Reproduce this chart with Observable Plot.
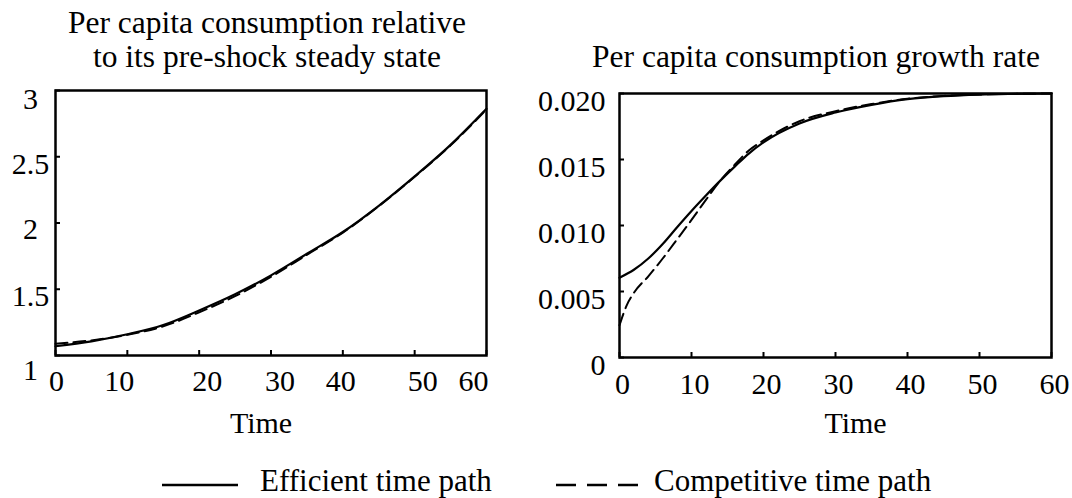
<!DOCTYPE html>
<html>
<head>
<meta charset="utf-8">
<script src="https://cdn.jsdelivr.net/npm/d3@7"></script>
<script src="https://cdn.jsdelivr.net/npm/@observablehq/plot@0.6"></script>
<style>
  body { margin: 0; background: #fff; }
  #root { position: relative; width: 1072px; height: 498px; overflow: hidden; background: #fff;
          font-family: "Liberation Serif", "Times New Roman", serif; color: #000; }
  .title { font-size: 31.5px; line-height: 34px; text-align: center; white-space: nowrap; width: 520px; }
  .legtext { font-size: 31px; line-height: 34px; white-space: nowrap; }
</style>
</head>
<body>
<div id="root"></div>
<script>
// ---- data ----
const titleLeft = ["Per capita consumption relative", "to its pre-shock steady state"];
const titleRight = "Per capita consumption growth rate";
const xAxisLabel = "Time";
const seriesNames = ["Efficient time path", "Competitive time path"];

const xTicks = [0, 10, 20, 30, 40, 50, 60];
const leftYTicks = [1, 1.5, 2, 2.5, 3];
const leftYTickLabels = ["1", "1.5", "2", "2.5", "3"];
const rightYTicks = [0, 0.005, 0.010, 0.015, 0.020];
const rightYTickLabels = ["0", "0.005", "0.010", "0.015", "0.020"];

// Left panel: consumption relative to pre-shock steady state
const timeLevel = [0, 5, 10, 15, 20, 25, 30, 35, 40, 45, 50, 55, 60];
const efficientLevel = [1.070, 1.107, 1.160, 1.230, 1.340, 1.462, 1.605, 1.768, 1.932, 2.130, 2.352, 2.590, 2.862];
const competitiveLevel = [1.088, 1.114, 1.156, 1.220, 1.326, 1.448, 1.594, 1.760, 1.927, 2.127, 2.349, 2.586, 2.857];

// Right panel: consumption growth rate
const timeGrowthEff = [0, 2, 4, 6, 8, 10, 12, 14, 16, 18, 20, 25, 30, 35, 40, 45, 50, 55, 60];
const efficientGrowth = [0.00605, 0.00665, 0.0075, 0.0086, 0.00987, 0.0111, 0.01227, 0.0134, 0.01446, 0.01547,
                         0.0163, 0.01773, 0.01856, 0.01914, 0.01957, 0.0198, 0.01992, 0.01997, 0.0200];
const timeGrowthComp = [0, 1, 2, 4, 6, 8, 10, 12, 14, 16, 18, 20, 25, 30, 35, 40, 45, 50, 55, 60];
const competitiveGrowth = [0.00244, 0.00395, 0.0049, 0.00615, 0.0075, 0.00895, 0.01042, 0.01194, 0.0134, 0.0146,
                           0.0157, 0.01645, 0.0179, 0.01866, 0.0192, 0.0196, 0.01982, 0.01993, 0.01997, 0.0200];

// ---- build ----
const root = document.getElementById("root");
const font = '"Liberation Serif", "Times New Roman", serif';
const dash = "12,6";

function rows(ts, vs) { return ts.map((t, i) => ({t, v: vs[i]})); }

const baseStyle = {fontFamily: font, fontSize: "30px", background: "transparent", overflow: "visible", color: "#000"};

// per-label nudges imitating the original's label placement
const leftXdx = [1, -8, 8, 9, -2, 8, -13];
const leftYdy = [15, 7.5, 6, 7.5, 9];

const leftPlot = Plot.plot({
  width: 530, height: 360,
  marginLeft: 55, marginRight: 44, marginTop: 10, marginBottom: 85,
  x: {domain: [0, 60]},
  y: {domain: [1, 3]},
  style: baseStyle,
  marks: [
    Plot.axisX(xTicks, {tickSize: -5, strokeWidth: 2, tickFormat: () => "", label: null}),
    ...xTicks.map((t, i) => Plot.axisX([t], {tickSize: 0, tickPadding: 14, dx: leftXdx[i], label: null, tickFormat: d => String(d)})),
    Plot.axisY(leftYTicks, {tickSize: -5, strokeWidth: 2, tickFormat: () => "", label: null}),
    ...leftYTicks.map((t, i) => Plot.axisY([t], {tickSize: 0, tickPadding: 25, textAnchor: "middle", dy: leftYdy[i], label: null, tickFormat: () => leftYTickLabels[i]})),
    Plot.line(rows(timeLevel, competitiveLevel), {x: "t", y: "v", stroke: "black", strokeWidth: 2, strokeDasharray: dash, curve: "monotone-x"}),
    Plot.line(rows(timeLevel, efficientLevel), {x: "t", y: "v", stroke: "black", strokeWidth: 2.2, curve: "monotone-x"}),
    Plot.frame({stroke: "black", strokeWidth: 2.5}),
    Plot.text([xAxisLabel], {frameAnchor: "bottom", dy: 77, dx: -10, fontSize: 30})
  ]
});

const rightPlot = Plot.plot({
  width: 512, height: 360,
  marginLeft: 59, marginRight: 21, marginTop: 13, marginBottom: 83,
  x: {domain: [0, 60]},
  y: {domain: [0, 0.02]},
  style: baseStyle,
  marks: [
    Plot.axisX(xTicks, {tickSize: -5, strokeWidth: 2, tickFormat: () => "", label: null}),
    Plot.axisX(xTicks, {tickSize: 0, tickPadding: 15, dx: 3, label: null, tickFormat: d => String(d)}),
    Plot.axisY(rightYTicks, {tickSize: -5, strokeWidth: 2, tickFormat: () => "", label: null}),
    Plot.axisY(rightYTicks, {tickSize: 0, tickPadding: 14, dy: 7.5, label: null, tickFormat: (d, i) => rightYTickLabels[i]}),
    Plot.line(rows(timeGrowthComp, competitiveGrowth), {x: "t", y: "v", stroke: "black", strokeWidth: 2, strokeDasharray: dash, curve: "monotone-x"}),
    Plot.line(rows(timeGrowthEff, efficientGrowth), {x: "t", y: "v", stroke: "black", strokeWidth: 2.2, curve: "monotone-x"}),
    Plot.frame({stroke: "black", strokeWidth: 2.5}),
    Plot.text([xAxisLabel], {frameAnchor: "bottom", dy: 75, dx: 20, fontSize: 30})
  ]
});

function place(el, left, top) {
  el.style.position = "absolute";
  el.style.left = left + "px";
  el.style.top = top + "px";
  root.appendChild(el);
}
place(leftPlot, 0, 80);
place(rightPlot, 560, 80);

// titles
const tl = document.createElement("div");
tl.className = "title";
tl.innerHTML = titleLeft.join("<br>");
place(tl, 267 - 260, 5.5);
const tr = document.createElement("div");
tr.className = "title";
tr.textContent = titleRight;
place(tr, 816 - 260, 39.5);

// legend
function swatch(x, w, dashed) {
  const ns = "http://www.w3.org/2000/svg";
  const s = document.createElementNS(ns, "svg");
  s.setAttribute("width", w);
  s.setAttribute("height", 8);
  const l = document.createElementNS(ns, "line");
  l.setAttribute("x1", 0); l.setAttribute("x2", w);
  l.setAttribute("y1", 4); l.setAttribute("y2", 4);
  l.setAttribute("stroke", "black");
  l.setAttribute("stroke-width", 2.5);
  if (dashed) l.setAttribute("stroke-dasharray", "20,11");
  s.appendChild(l);
  place(s, x, 481);
}
swatch(162, 76, false);
swatch(556, 84, true);
const l1 = document.createElement("div");
l1.className = "legtext"; l1.textContent = seriesNames[0];
place(l1, 260, 464);
const l2 = document.createElement("div");
l2.className = "legtext"; l2.textContent = seriesNames[1];
place(l2, 654, 464);
</script>
</body>
</html>
